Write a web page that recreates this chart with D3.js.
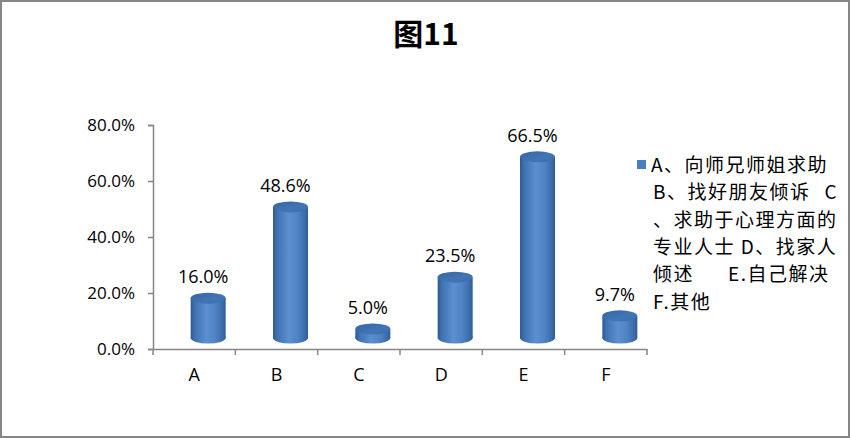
<!DOCTYPE html>
<html><head><meta charset="utf-8">
<script src="https://cdn.jsdelivr.net/npm/d3@7"></script>
<style>
html,body{margin:0;padding:0;background:#fff;}
svg{display:block;}
text{font-family:"Open Sans","Noto Sans","Noto Sans CJK SC",sans-serif;}
</style></head>
<body><svg id="c" width="850" height="438"></svg>
<script>
const title = "图11";
const categories = ["A","B","C","D","E","F"];
const values = [0.160, 0.486, 0.050, 0.235, 0.665, 0.097];
const valueLabels = ["16.0%","48.6%","5.0%","23.5%","66.5%","9.7%"];
const yTicks = [0, 0.2, 0.4, 0.6, 0.8];
const legendLines = [
  ["A、向师兄师姐求助"],
  ["B、找好朋友倾诉", "C"],
  ["、求助于心理方面的"],
  ["专业人士 D、找家人"],
  ["倾述", "E.自己解决"],
  ["F.其他"]
];

const svg = d3.select("#c");
const W = 850, H = 438;
const defs = svg.append("defs");

// border
svg.append("rect").attr("x",1).attr("y",1).attr("width",W-2).attr("height",H-2)
  .attr("fill","#fff").attr("stroke","#868686").attr("stroke-width",2);

// title
svg.append("text").attr("x",426).attr("y",45).attr("text-anchor","middle")
  .attr("font-size",30).attr("font-weight","bold").attr("fill","#000")
  .style("font-family",'"Noto Sans CJK SC","Liberation Sans",sans-serif')
  .text(title);

const x = d3.scaleBand().domain(categories).range([153,647]).paddingInner(0).paddingOuter(0);
const y = d3.scaleLinear().domain([0,0.8]).range([349,125]);

// gradients
const gb = defs.append("linearGradient").attr("id","gBody").attr("x1","0").attr("x2","1").attr("y1","0").attr("y2","0");
[[0,"#2d5a92"],[0.12,"#3f72b1"],[0.45,"#5b8fd0"],[0.7,"#4f83c4"],[0.92,"#3a6ba8"],[1,"#2c5a93"]]
  .forEach(([o,c])=>gb.append("stop").attr("offset",o).attr("stop-color",c));
const gt = defs.append("linearGradient").attr("id","gTop").attr("x1","0").attr("x2","1").attr("y1","0").attr("y2","1");
[[0,"#3465a3"],[0.6,"#4275b5"],[1,"#3a6cab"]]
  .forEach(([o,c])=>gt.append("stop").attr("offset",o).attr("stop-color",c));

// y axis
const yAxis = d3.axisLeft(y).tickValues(yTicks).tickFormat(d3.format(".1%")).tickSize(5).tickPadding(13);
const gy = svg.append("g").attr("transform","translate(153,0)").call(yAxis);
gy.select(".domain").attr("stroke","#868686").attr("stroke-width",1.5);
gy.selectAll(".tick line").attr("stroke","#868686").attr("stroke-width",1.5);
gy.selectAll(".tick text").attr("font-size",17).attr("fill","#000")
  .style("font-family",'"Open Sans",sans-serif');

// x axis
const xAxis = d3.axisBottom(x).tickSize(0).tickPadding(19);
const gx = svg.append("g").attr("transform","translate(0,349)").call(xAxis);
gx.select(".domain").attr("stroke","#868686").attr("stroke-width",1.5);
gx.selectAll(".tick text").attr("font-size",18).attr("fill","#000")
  .style("font-family",'"Open Sans",sans-serif');
const bounds = categories.map(c=>x(c)).concat([x.range()[1]]);
gx.selectAll(".bnd").data(bounds).enter().append("line")
  .attr("x1",d=>d).attr("x2",d=>d).attr("y1",0).attr("y2",6)
  .attr("stroke","#868686").attr("stroke-width",1.5);

// cylinders
const rx = 17.5, ry = 5.5, dx = 14, topOff = 6, baseOff = 11;
const bars = svg.append("g").selectAll("g").data(categories).enter().append("g");
bars.each(function(c,i){
  const g = d3.select(this);
  const cx = x(c) + x.bandwidth()/2 + dx;
  const ty = y(values[i]) - topOff;
  const by = y(0) - baseOff;
  g.append("ellipse").attr("cx",cx).attr("cy",by).attr("rx",rx).attr("ry",ry).attr("fill","url(#gBody)");
  g.append("rect").attr("x",cx-rx).attr("y",ty).attr("width",2*rx).attr("height",Math.max(0,by-ty)).attr("fill","url(#gBody)");
  g.append("ellipse").attr("cx",cx).attr("cy",ty).attr("rx",rx).attr("ry",ry).attr("fill","url(#gTop)");
  g.append("text").attr("x",cx-5).attr("y",ty-15).attr("text-anchor","middle")
    .attr("font-size",18).attr("fill","#000")
    .style("font-family",'"Open Sans",sans-serif')
    .text(valueLabels[i]);
});

// legend
const lg = svg.append("g");
lg.append("rect").attr("x",637).attr("y",160).attr("width",9).attr("height",9).attr("fill","#4a7ebf");
const lineY0 = 172, lineH = 27.3;
legendLines.forEach((segs,i)=>{
  const yy = lineY0 + i*lineH;
  const xs = i===0 ? [651] : (segs.length===2 ? (i===1 ? [653, 838] : [653, 728]) : [653]);
  segs.forEach((s,j)=>{
    lg.append("text").attr("x",xs[j]).attr("y",yy)
      .attr("text-anchor", (i===1 && j===1) ? "end" : "start")
      .attr("font-size",19).attr("fill","#000")
      .style("letter-spacing","1.5px")
      .style("font-family",'"Noto Sans CJK SC",sans-serif')
      .text(s);
  });
});
</script></body></html>
